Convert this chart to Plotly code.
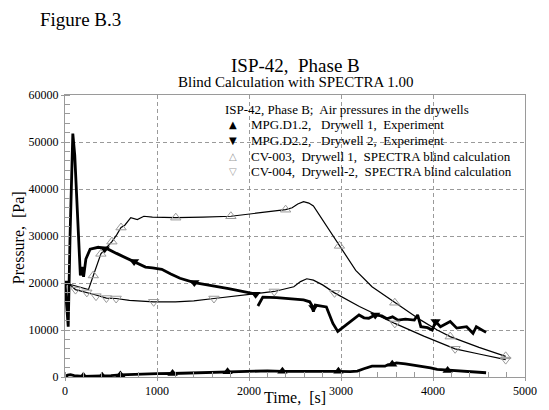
import plotly.graph_objects as go

# ---------------- data ----------------
# MPG.D1.2, Drywell 1, Experiment
d1_t = [0, 30, 60, 100, 200, 300, 400, 500, 600, 700, 850, 1000, 1169, 1350, 1500, 1767, 2000, 2200,
        2363, 2600, 2800, 2972, 3100, 3178, 3248, 3337, 3478, 3514, 3557, 3603, 3700, 3833, 3974,
        4045, 4187, 4350, 4577]
d1_p = [0, 400, 500, 300, 150, 150, 150, 300, 450, 550, 650, 700, 750, 850, 900, 1100, 1200, 1300,
        1200, 1250, 1200, 1200, 1150, 1260, 1750, 2300, 2300, 2650, 2700, 3000, 2800, 2450, 1960,
        1600, 1400, 1300, 900]
d1_mt = [0, 200, 404, 602, 1169, 1767, 2363, 2972, 3557, 4159]
d1_mp = [0, 150, 150, 450, 750, 1100, 1200, 1200, 2700, 1400]

# MPG.D2.2, Drywell 2, Experiment
d2_t = [0, 15, 35, 55, 85, 106, 130, 149, 167, 184, 202, 227, 273, 361, 468, 560, 650, 751, 800,
        875, 950, 1052, 1150, 1250, 1406, 1530, 1650, 1778, 1900, 2062,
        2080,
        2097, 2150, 2300, 2450, 2593, 2660, 2681, 2700, 2720, 2841, 2912, 2965, 3054, 3120, 3150,
        3196, 3250, 3302, 3372, 3443, 3500, 3560, 3620, 3700, 3797, 3833, 3868, 3940, 3992, 4028,
        4081, 4187, 4258, 4320, 4365, 4435, 4471, 4577]
d2_p = [20000, 16000, 10700, 30000, 51800, 47200, 38000, 28300, 21600, 23400, 21300, 25100, 27200,
        27600, 27200, 26300, 25500, 24600, 24000, 23400, 23200, 22900, 21900, 21000, 20100, 19700,
        19200, 18800, 18300, 17700,
        None,
        15100, 17000, 16900, 16700, 16400, 16000, 15300, 13900, 15300, 14900, 11400, 9700, 11100,
        12000, 12500, 13200, 12600, 12500, 13200, 13000, 12400, 12800, 12100, 12300, 12100, 13200,
        10700, 10500, 10000, 11800, 10700, 11800, 10400, 10600, 10700, 9300, 10700, 9500]
d2_mt = [0, 432, 751, 1406, 2072, 2700, 3372, 4028]
d2_mp = [20000, 27300, 24600, 20100, 17600, 14800, 13200, 11800]

# CV-003, Drywell 1, SPECTRA blind calculation
c3_t = [0, 60, 120, 200, 255, 308, 390, 450, 510, 560, 609, 650, 715, 786, 857, 950, 1204, 1500,
        1803, 2100, 2398, 2469, 2530, 2593, 2650, 2700, 2806, 2983, 3160, 3337, 3585, 3868, 4046,
        4187, 4500, 4790]
c3_p = [20000, 19700, 19300, 18900, 18600, 21600, 26200, 27500, 28800, 30200, 31800, 32300, 33900,
        33500, 34200, 34000, 33900, 34000, 34200, 34900, 35600, 36000, 36800, 37300, 37000, 36400,
        33200, 27900, 22700, 19200, 15800, 12100, 10000, 8600, 6300, 4400]
c3_mt = [308, 390, 510, 609, 1204, 1803, 2398, 2983, 3585, 4187, 4790]
c3_mp = [21600, 26200, 28800, 31800, 33900, 34200, 35600, 27900, 15800, 8600, 4400]

# CV-004, Drywell-2, SPECTRA blind calculation
c4_t = [0, 60, 114, 220, 326, 450, 556, 700, 964, 1200, 1400, 1619, 1900, 2274, 2487, 2560, 2628,
        2700, 2800, 2930, 3200, 3585, 3900, 4240, 4500, 4790]
c4_p = [20000, 19500, 18600, 18100, 17500, 16800, 16700, 16300, 16000, 16000, 16200, 16700, 17300,
        18200, 19200, 20300, 20900, 20600, 19600, 17900, 15000, 11400, 8700, 6000, 4900, 3700]
c4_mt = [114, 237, 337, 450, 556, 964, 1619, 2274, 2930, 3585, 4240, 4790]
c4_mp = [18600, 18000, 17200, 16800, 16700, 16000, 16700, 18200, 17900, 11400, 6000, 3700]

legend_title = "ISP-42, Phase B;  Air pressures in the drywells"
legend_names = ["MPG.D1.2,   Drywell 1,  Experiment",
                "MPG.D2.2,   Drywell 2,  Experiment",
                "CV-003,  Drywell 1,  SPECTRA blind calculation",
                "CV-004,  Drywell-2,  SPECTRA blind calculation"]
legend_symbols = ["▲", "▼", "△", "▽"]

x_ticks = [0, 1000, 2000, 3000, 4000, 5000]
y_ticks = [0, 10000, 20000, 30000, 40000, 50000, 60000]

# ---------------- figure ----------------
FONT = "Liberation Serif, Times New Roman, serif"
GRAY = "#9a9a9a"
L, T, B, W, H = 65, 95, 381, 472, 286   # plot area in pixels


def px_x(px):
    return (px - L) / W


def px_y(py):
    return (B - py) / H


fig = go.Figure()

# lines
fig.add_trace(go.Scatter(x=c3_t, y=c3_p, mode="lines", line=dict(color="black", width=1.2),
                         showlegend=False, hoverinfo="skip"))
fig.add_trace(go.Scatter(x=c4_t, y=c4_p, mode="lines", line=dict(color="black", width=1.2),
                         showlegend=False, hoverinfo="skip"))
fig.add_trace(go.Scatter(x=d1_t, y=d1_p, mode="lines", line=dict(color="black", width=2.8),
                         showlegend=False, hoverinfo="skip"))
fig.add_trace(go.Scatter(x=d2_t, y=d2_p, mode="lines", line=dict(color="black", width=2.8),
                         showlegend=False, hoverinfo="skip"))

# markers
fig.add_trace(go.Scatter(x=d1_mt, y=d1_mp, mode="markers", name=legend_names[0], showlegend=False,
                         marker=dict(symbol="triangle-up", size=9, color="black")))
fig.add_trace(go.Scatter(x=d2_mt, y=d2_mp, mode="markers", name=legend_names[1], showlegend=False,
                         marker=dict(symbol="triangle-down", size=9, color="black")))
fig.add_trace(go.Scatter(x=c3_mt, y=c3_mp, mode="markers", name=legend_names[2], showlegend=False,
                         marker=dict(symbol="triangle-up-open", size=9, color=GRAY,
                                     line=dict(width=1, color=GRAY))))
fig.add_trace(go.Scatter(x=c4_mt, y=c4_mp, mode="markers", name=legend_names[3], showlegend=False,
                         marker=dict(symbol="triangle-down-open", size=9, color=GRAY,
                                     line=dict(width=1, color=GRAY))))

axis_common = dict(showline=True, linecolor=GRAY, linewidth=1, mirror=True,
                   showgrid=True, gridcolor=GRAY, gridwidth=1, griddash="4px,3px",
                   zeroline=False, ticks="outside", ticklen=3, tickcolor=GRAY,
                   tickfont=dict(family=FONT, size=12, color="black"))

fig.update_xaxes(range=[0, 5000], tickvals=x_ticks, ticktext=[str(v) for v in x_ticks],
                 minor=dict(dtick=200, ticks="inside", ticklen=5, tickcolor=GRAY, showgrid=False),
                 **axis_common)
fig.update_yaxes(range=[0, 60000], tickvals=y_ticks, ticktext=[str(v) for v in y_ticks],
                 minor=dict(dtick=2000, ticks="inside", ticklen=5, tickcolor=GRAY, showgrid=False),
                 **axis_common)

annotations = [
    dict(text="Figure B.3", x=px_x(37), y=px_y(18), xanchor="left",
         font=dict(family=FONT, size=19, color="black")),
    dict(text="ISP-42,  Phase B", x=0.5, y=px_y(65), xanchor="center",
         font=dict(family=FONT, size=19, color="black")),
    dict(text="Blind Calculation with SPECTRA 1.00", x=0.5, y=px_y(82), xanchor="center",
         font=dict(family=FONT, size=15, color="black")),
    dict(text=legend_title, x=px_x(227), y=px_y(110), xanchor="left",
         font=dict(family=FONT, size=13, color="black")),
    dict(text="Time,  [s]", x=0.5, y=px_y(402), xanchor="center",
         font=dict(family=FONT, size=16, color="black")),
    dict(text="Pressure,  [Pa]", x=px_x(18), y=px_y(240), xanchor="center", textangle=-90,
         font=dict(family=FONT, size=16, color="black")),
]
sym_colors = ["black", "black", GRAY, GRAY]
for i, (sym, name) in enumerate(zip(legend_symbols, legend_names)):
    yy = 125 + 16 * i
    annotations.append(dict(text=sym, x=px_x(237), y=px_y(yy), xanchor="center",
                            font=dict(family="DejaVu Sans", size=10, color=sym_colors[i])))
    annotations.append(dict(text=name, x=px_x(254), y=px_y(yy), xanchor="left",
                            font=dict(family=FONT, size=13, color="black")))
for a in annotations:
    a.update(xref="paper", yref="paper", yanchor="middle", showarrow=False)

fig.update_layout(
    width=549, height=410,
    margin=dict(l=L, r=549 - L - W, t=T, b=410 - B),
    paper_bgcolor="white", plot_bgcolor="white",
    font=dict(family=FONT, color="black"),
    showlegend=False,
    annotations=annotations,
)

fig.write_html("out.html")
